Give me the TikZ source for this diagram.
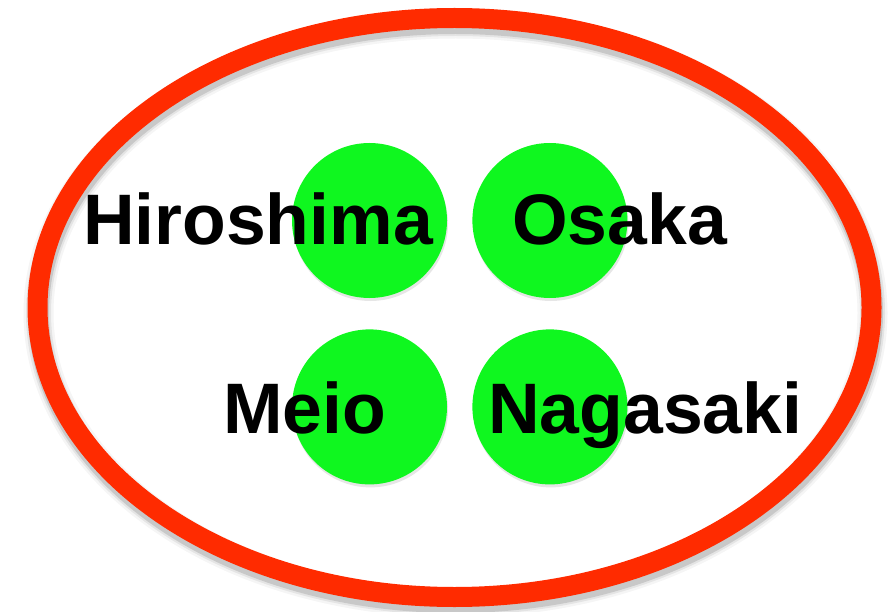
\documentclass[tikz,border=0pt]{standalone}
\usepackage{fontspec}
\setmainfont{Liberation Sans}
\usepackage{tikz}
\usetikzlibrary{positioning,shadows}
\definecolor{ringRed}{HTML}{FF2B00}
\definecolor{cityGreen}{HTML}{0FF71F}
\tikzset{
  ring/.style={draw=ringRed,line width=20pt},
  ringshade/.style={draw=black,line width=#1},
  city/.style={circle,fill=cityGreen,minimum size=155pt,inner sep=0pt,
    drop shadow={shadow xshift=1pt,shadow yshift=-3pt,opacity=0.2}},
  cityname/.style={anchor=base west,inner sep=0pt,
    font=\fontsize{71.5pt}{72pt}\selectfont\bfseries},
}

\begin{document}
\begin{tikzpicture}[x=1pt,y=-1pt]
\useasboundingbox (0,0) rectangle (888,612);
% outer ring, soft shadow first
\foreach \w/\o in {30/0.04,25/0.07,21/0.12}
  \draw[ringshade=\w pt,opacity=\o] (455.5,313) ellipse [x radius=417,y radius=289.5];
\draw[ring] (454.5,307.5) ellipse [x radius=417,y radius=289.5];
% the four cities
\node[city] (hiro) at (369.5,220.5) {};
\node[city, right=25pt of hiro] (osaka) {};
\node[city, below=31pt of hiro] (meio) {};
\node[city, right=25pt of meio] (naga) {};
\node[cityname] (hiroT) at (83,245) {Hiroshima};
\node[cityname] (osakaT) at (512,245) {Osaka};
\node[cityname] (meioT) at (223,433) {Meio};
\node[cityname] (nagaT) at (488,433) {Nagasaki};
\end{tikzpicture}
\end{document}
